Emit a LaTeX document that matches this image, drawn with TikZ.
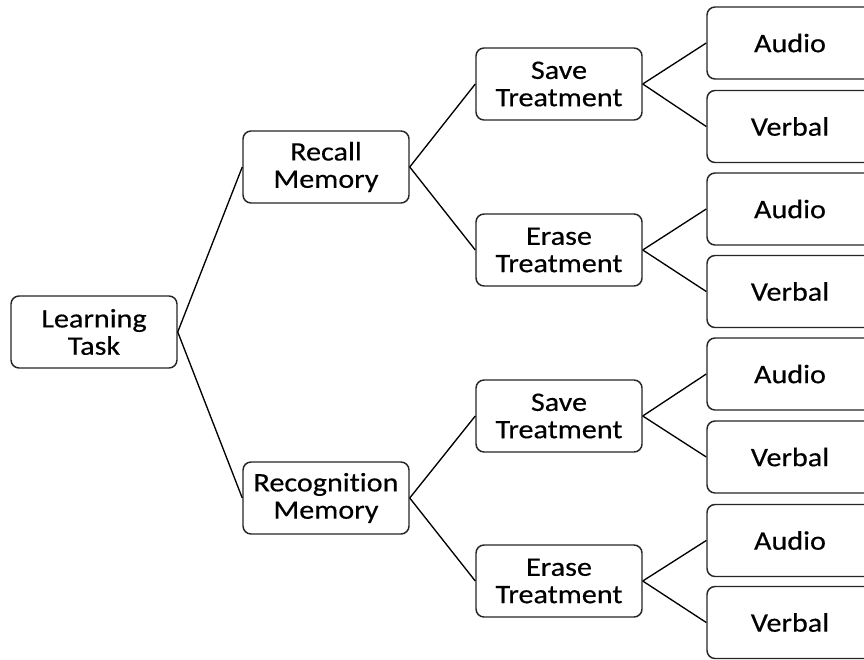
\documentclass[tikz,border=0pt]{standalone}
\usepackage{fontspec}
\setmainfont[FakeStretch=1.13,FakeBold=0.4,Ligatures=NoCommon]{Carlito}
\begin{document}
\begin{tikzpicture}[x=0.75pt,y=-0.75pt,
  box/.style={draw=black!85, line width=1.1pt, rounded corners=6pt, minimum width=124.5pt, minimum height=54pt, align=center, inner sep=0pt, font=\fontsize{20}{20.5}\selectfont, text=black},
  link/.style={draw=black, line width=1pt}]
\clip (0,0) rectangle (864,660);
\fill[white] (0,0) rectangle (864,660);
\node[box] (lt) at (94,332) {Learning\\Task};
\node[box] (rc) at (326,167) {Recall\\Memory};
\node[box] (rg) at (326,498) {Recognition\\Memory};
\node[box] (s1) at (559,84) {Save\\Treatment};
\node[box] (e1) at (559,250) {Erase\\Treatment};
\node[box] (s2) at (559,416) {Save\\Treatment};
\node[box] (e2) at (559,581) {Erase\\Treatment};
\node[box] (a1) at (790,43) {Audio};
\node[box] (v1) at (790,126.5) {Verbal};
\node[box] (a2) at (790,209) {Audio};
\node[box] (v2) at (790,291.5) {Verbal};
\node[box] (a3) at (790,374) {Audio};
\node[box] (v3) at (790,457) {Verbal};
\node[box] (a4) at (790,540.5) {Audio};
\node[box] (v4) at (790,622.5) {Verbal};
\draw[link] (lt.east) -- (rc.west);
\draw[link] (lt.east) -- (rg.west);
\draw[link] (rc.east) -- (s1.west);
\draw[link] (rc.east) -- (e1.west);
\draw[link] (rg.east) -- (s2.west);
\draw[link] (rg.east) -- (e2.west);
\draw[link] (s1.east) -- (a1.west);
\draw[link] (s1.east) -- (v1.west);
\draw[link] (e1.east) -- (a2.west);
\draw[link] (e1.east) -- (v2.west);
\draw[link] (s2.east) -- (a3.west);
\draw[link] (s2.east) -- (v3.west);
\draw[link] (e2.east) -- (a4.west);
\draw[link] (e2.east) -- (v4.west);
\end{tikzpicture}
\end{document}
